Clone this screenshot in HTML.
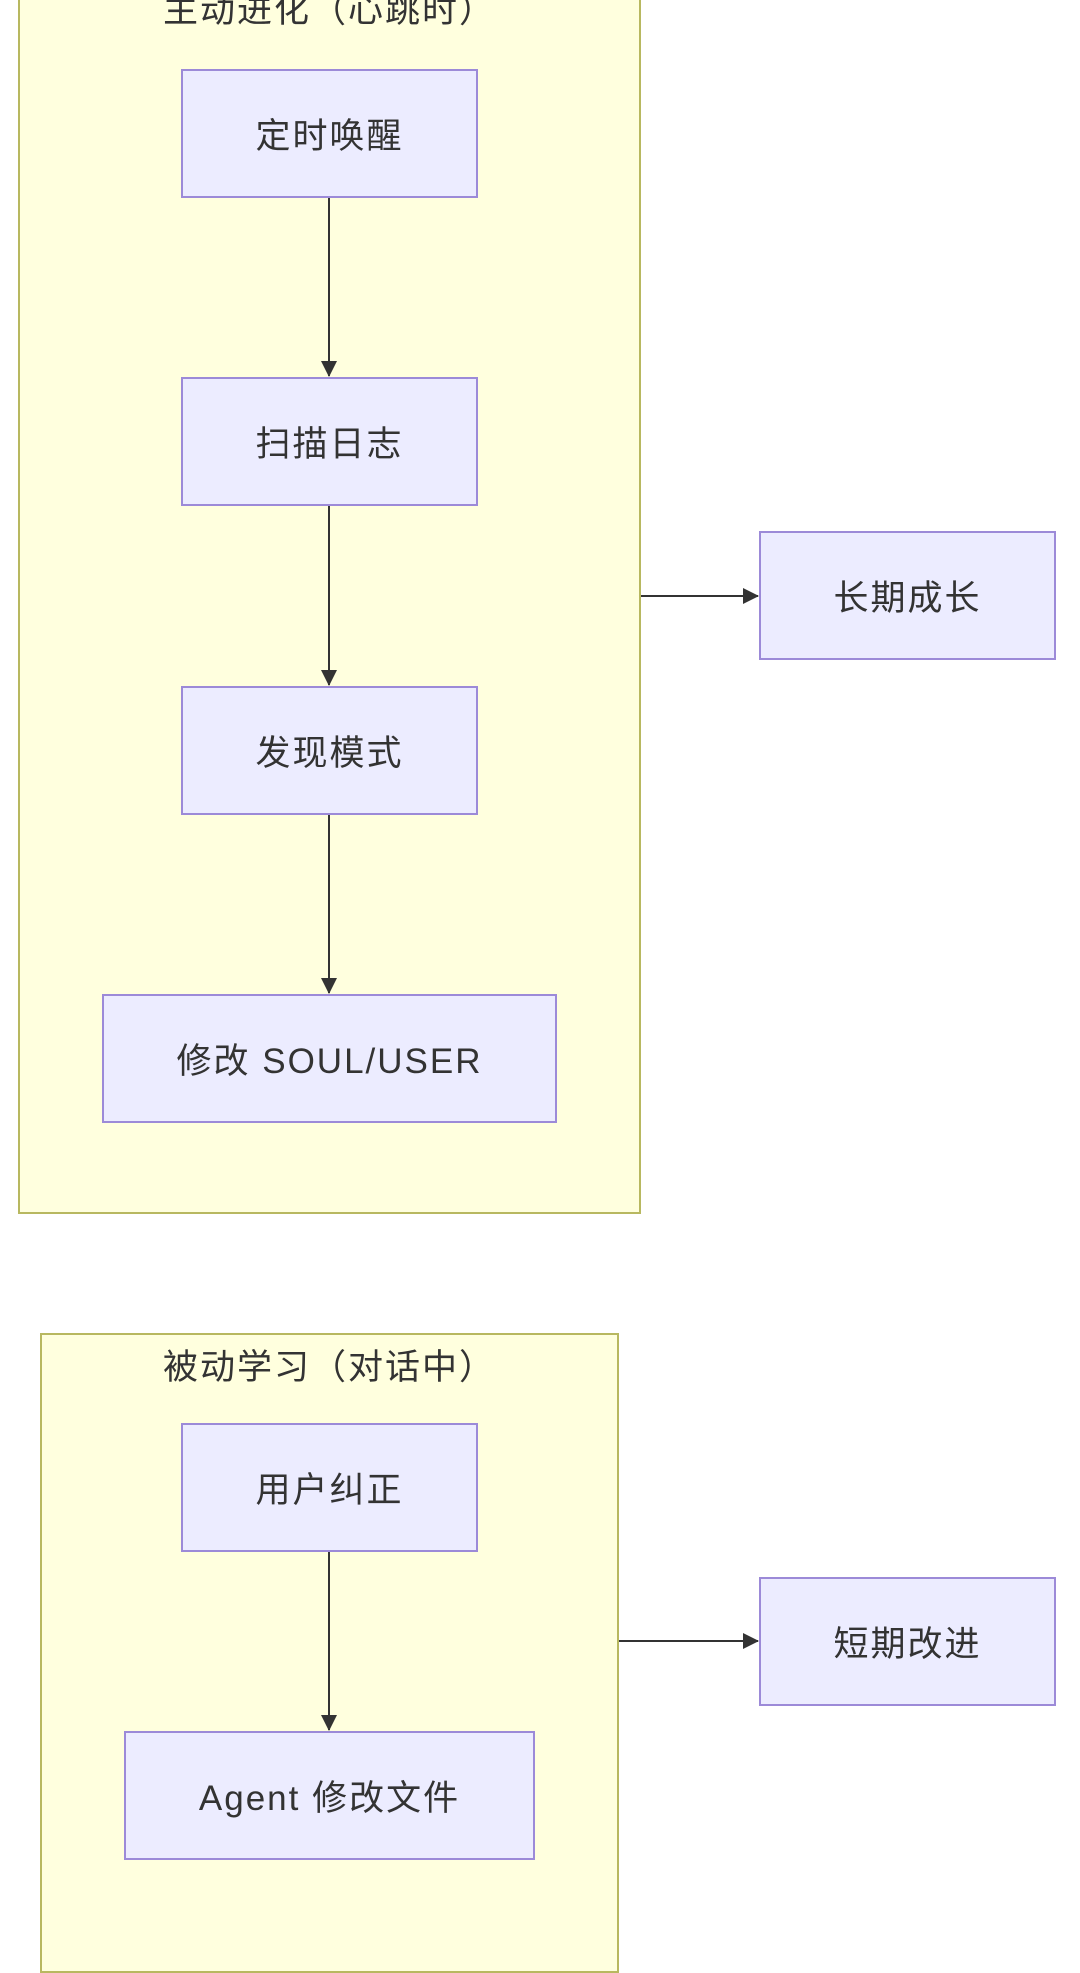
<!DOCTYPE html>
<html><head><meta charset="utf-8"><style>
body{margin:0;width:1080px;height:1920px;background:#fff;position:relative;overflow:hidden;font-family:"Liberation Sans","Noto Sans CJK SC",sans-serif;color:#333}
.c{position:absolute;background:#ffffde;border:2px solid #b8b860;box-sizing:border-box}
.n{position:absolute;background:#ececff;border:2px solid #9c8ad8;box-sizing:border-box;display:flex;align-items:center;justify-content:center;font-size:35px;letter-spacing:2px}
.t{position:absolute;font-size:35px;letter-spacing:2px;text-align:center}
svg{position:absolute;left:0;top:0}
</style></head><body>
<div class="c" style="left:18px;top:-20px;width:623px;height:1234px"></div>
<div class="t" style="left:18px;width:623px;top:-18px">主动进化（心跳时）</div>
<div class="c" style="left:40px;top:1333px;width:579px;height:640px"></div>
<div class="t" style="left:40px;width:579px;top:1339px">被动学习（对话中）</div>
<div class="n" style="left:181px;top:69px;width:297px;height:129px">定时唤醒</div>
<div class="n" style="left:181px;top:377px;width:297px;height:129px">扫描日志</div>
<div class="n" style="left:181px;top:686px;width:297px;height:129px">发现模式</div>
<div class="n" style="left:102px;top:994px;width:455px;height:129px">修改 SOUL/USER</div>
<div class="n" style="left:759px;top:531px;width:297px;height:129px">长期成长</div>
<div class="n" style="left:181px;top:1423px;width:297px;height:129px">用户纠正</div>
<div class="n" style="left:124px;top:1731px;width:411px;height:129px">Agent 修改文件</div>
<div class="n" style="left:759px;top:1577px;width:297px;height:129px">短期改进</div>
<svg width="1080" height="1920">
<defs><marker id="a" markerWidth="16" markerHeight="16" refX="15" refY="8" orient="auto" markerUnits="userSpaceOnUse"><path d="M0,0L16,8L0,16z" fill="#333"/></marker></defs>
<g stroke="#333" stroke-width="2" marker-end="url(#a)">
<line x1="329" y1="198" x2="329" y2="376"/>
<line x1="329" y1="506" x2="329" y2="685"/>
<line x1="329" y1="815" x2="329" y2="993"/>
<line x1="641" y1="596" x2="758" y2="596"/>
<line x1="329" y1="1552" x2="329" y2="1730"/>
<line x1="619" y1="1641" x2="758" y2="1641"/>
</g></svg>
</body></html>
